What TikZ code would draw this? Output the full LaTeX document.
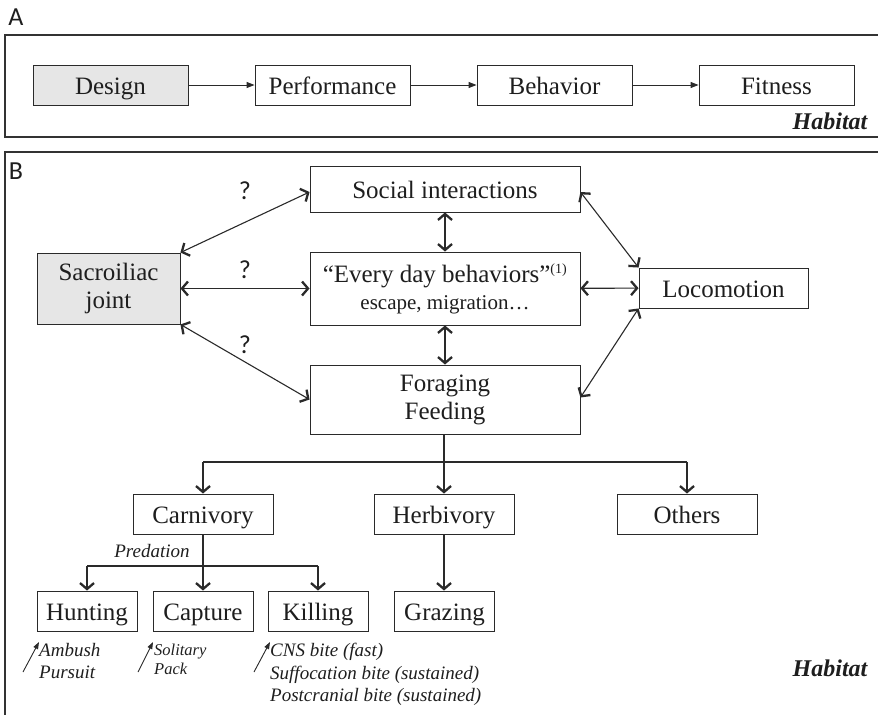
\documentclass[tikz,border=0pt]{standalone}
\usepackage{fontspec}
\setmainfont{Liberation Serif}
\newfontfamily\labelfont{Carlito}
\usepackage{tikz}
\usetikzlibrary{positioning, arrows.meta}
\usepackage{xcolor}
\definecolor{frameline}{HTML}{333333}
\definecolor{boxline}{HTML}{2A2A2A}
\definecolor{greyfill}{HTML}{E6E6E6}
\definecolor{darktext}{HTML}{1E1E1E}
\newcommand{\boxfs}{\fontsize{25}{28}\selectfont}
\newcommand{\subfs}{\fontsize{21}{24}\selectfont}
\newcommand{\notefs}{\fontsize{19}{22.5}\selectfont\itshape}
\newcommand{\smallnotefs}{\fontsize{16.5}{19}\selectfont\itshape}

\begin{document}
\begin{tikzpicture}[
        x=1pt, y=-1pt,
        box/.style={rectangle, draw=boxline, line width=0.9pt, fill=white,
          inner sep=0pt, align=center, font=\boxfs, text=darktext},
        onebox/.style={box, text height=19.5pt, text depth=0.5pt},
        keybox/.style={fill=greyfill},
        wbox/.style={onebox, minimum width=155pt, minimum height=40pt},
        tbox/.style={onebox, minimum width=140pt, minimum height=40pt},
        sbox/.style={onebox, minimum width=100pt, minimum height=40pt},
        arr/.style={-{Triangle[length=8pt, width=6pt]}, line width=0.9pt,
          color=boxline},
        biarr/.style={{Straight Barb[length=6pt, width=14pt, line width=2.3pt]}-{Straight Barb[length=6pt, width=14pt, line width=2.3pt]},
          line width=1.1pt, color=boxline},
        downarr/.style={-{Straight Barb[length=6pt, width=14pt, line width=2.3pt]},
          line width=1.1pt, color=boxline},
        notearr/.style={-{Triangle[length=7pt, width=5pt]}, line width=0.9pt,
          color=boxline},
        frame/.style={line width=1.1pt, color=frameline},
        lbl/.style={font=\labelfont\fontsize{26}{30}\selectfont, text=darktext,
          inner sep=0pt},
        note/.style={font=\notefs, text=darktext, align=left, inner sep=0pt,
          anchor=north west},
        hab/.style={font=\fontsize{24}{28}\selectfont\bfseries\itshape,
          text=darktext, inner sep=0pt},
      ]
        \useasboundingbox (0,0) rectangle (878,715);

        % panel frames
        \draw[frame] (878,35) -- (5,35) -- (5,137) -- (878,137);
        \draw[frame] (878,152) -- (5,152) -- (5,715);
        \node[lbl] (labA) at (16,17) {A};
        \node[lbl] (labB) at (16,171) {B};

        % panel A
        \node[wbox, keybox] (design) at (110.5,85) {Design};
        \node[wbox] (perf)  at (332.5,85) {Performance};
        \node[wbox] (behav) at (554.5,85) {Behavior};
        \node[wbox] (fit)   at (776.5,85) {Fitness};
        \draw[arr] (design) -- (perf);
        \draw[arr] (perf) -- (behav);
        \draw[arr] (behav) -- (fit);
        \node[hab] (habA) at (830,121) {Habitat};

        % panel B
        \node[onebox, minimum width=270pt, minimum height=46pt]
          (social) at (445,189) {Social interactions};
        \node[box, minimum width=270pt, minimum height=73pt]
          (every) at (445,288.5)
          {``Every day behaviors''\textsuperscript{\fontsize{14}{16}\selectfont(1)}\\[-1pt]
           {\subfs escape, migration\ldots}};
        \node[box, minimum width=270pt, minimum height=69pt]
          (forage) at (445,399.5) {Foraging\\Feeding};
        \node[box, keybox, minimum width=143pt, minimum height=71pt]
          (sacro) at (108.5,288.5) {Sacroiliac\\joint};
        \node[onebox, minimum width=169pt, minimum height=40pt]
          (loco) at (723.5,288) {Locomotion};

        \draw[biarr] (sacro.north east) -- ([yshift=-3pt]social.west);
        \draw[biarr] (sacro) -- (every);
        \draw[biarr] (sacro.south east) -- (forage.west);
        \node[lbl] (q1) at (245,191) {?};
        \node[lbl] (q2) at (245,270) {?};
        \node[lbl] (q3) at (245,345) {?};

        \draw[biarr] (social) -- (every);
        \draw[biarr] (every) -- (forage);
        \draw[biarr] ([yshift=-3pt]social.east) -- (loco.north west);
        \draw[biarr] (every) -- (loco);
        \draw[biarr] ([yshift=2pt]forage.east) -- (loco.south west);

        % feeding types
        \node[tbox] (carni) at (203,514) {Carnivory};
        \node[tbox] (herbi) at (444,514) {Herbivory};
        \node[tbox] (other) at (687,514) {Others};
        \coordinate (forkL) at (203,462);
        \coordinate (forkR) at (687,462);
        \draw[line width=1.1pt, color=boxline] (forkL) -- (forkR);
        \draw[downarr] (forkL) -- (carni);
        \draw[downarr] (forage.south -| herbi) -- (herbi);
        \draw[downarr] (forkR) -- (other);

        % predation
        \node[sbox] (hunt)  at (87,611)  {Hunting};
        \node[sbox] (capt)  at (203,611) {Capture};
        \node[sbox] (kill)  at (318,611) {Killing};
        \node[sbox] (graze) at (444.5,611) {Grazing};
        \coordinate (predL) at (87,566);
        \coordinate (predR) at (318,566);
        \draw[line width=1.1pt, color=boxline] (predL) -- (predR);
        \draw[downarr] (carni) -- (capt);
        \draw[downarr] (predL) -- (hunt);
        \draw[downarr] (predR) -- (kill);
        \draw[downarr] (herbi) -- (graze.north -| herbi);
        \node[font=\notefs, text=darktext, inner sep=0pt]
          (pred) at (152,551) {Predation};

        % notes
        \node[note] (ambush) at (39,643) {Ambush\\Pursuit};
        \node[note, font=\smallnotefs] (solo) at (154,644) {Solitary\\Pack};
        \node[note] (bite) at (270,643)
          {CNS bite (fast)\\Suffocation bite (sustained)\\Postcranial bite (sustained)};
        \draw[notearr] ([xshift=-16pt, yshift=-29pt]ambush.north west) -- ([yshift=1pt]ambush.north west);
        \draw[notearr] ([xshift=-16pt, yshift=-28pt]solo.north west) -- ([xshift=-1pt, yshift=2pt]solo.north west);
        \draw[notearr] ([xshift=-16pt, yshift=-29pt]bite.north west) -- ([yshift=1pt]bite.north west);
        \node[hab] (habB) at (830,668) {Habitat};
      \end{tikzpicture}
\end{document}
